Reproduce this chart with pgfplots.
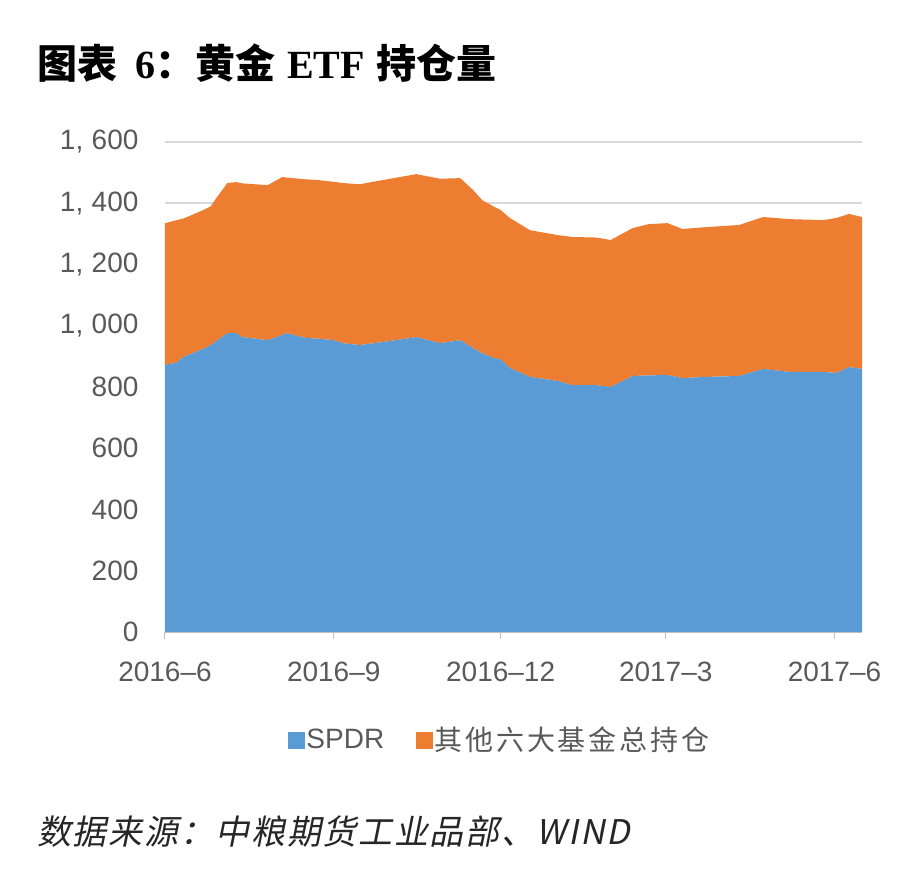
\documentclass[border=0pt]{standalone}
\usepackage{fontspec}
\setmainfont{Liberation Sans}
\newfontfamily\cjk{Noto Sans CJK SC}
\newfontfamily\serifb{Liberation Serif}
\newfontfamily\cjkleg{Noto Sans CJK SC}[LetterSpace=10]
\newfontfamily\cjksl{Noto Sans CJK SC}[FakeSlant=0.2, LetterSpace=5]
\usepackage{pgfplots}
\usepackage{pgfplotstable}
\pgfplotsset{compat=1.18}
\definecolor{c1}{HTML}{5B9BD5}
\definecolor{c2}{HTML}{ED7D31}
\definecolor{gridc}{HTML}{D9D9D9}
\definecolor{axc}{HTML}{BFBFBF}
\definecolor{txt}{HTML}{595959}
\pgfplotstableread{
d S O
0 872 463
6.5 880 465
10 898 452
21 925 453
25 937 453
28 950 467
34 976 490
39 976 493
42 963 502
56 953 506
64 970 516
66 976 508
77 960 518
83 958 518
92 953 517
97 943 523
106 937 525
119 947 529
137 963 532
150 943 537
161 953 529
168 927 516
173 910 500
179 895 495
183 890 488
188 862 490
199 833 479
214 820 476
222 806 484
235 806 482
243 800 480
255 836 483
264 838 494
274 839 496
282 829 487
295 833 489
313 836 493
326 859 496
341 849 499
359 849 496
366 846 506
373 865 500
380 859 496
}\data
\begin{document}
\begin{tikzpicture}[x=1pt,y=1pt]
\path[use as bounding box] (0,0) rectangle (914,876);
\node[anchor=base west, inner sep=0] at (37,797) {\fontsize{40}{40}\selectfont\cjk\bfseries 图表\hspace{0.45em}{\serifb\bfseries 6}：黄金\hspace{0.3em}{\serifb\bfseries ETF}\hspace{0.3em}持仓量};
\begin{axis}[
  at={(165pt,244pt)}, anchor=south west,
  scale only axis, width=697pt, height=490pt,
  xmin=0, xmax=380, ymin=0, ymax=1600,
  stack plots=y,
  axis x line*=bottom, axis y line*=left,
  y axis line style={draw=none},
  x axis line style={draw=axc, line width=1.5pt, -},
  xtick={0,92,183,273,365},
  xticklabels={2016--6,2016--9,2016--12,2017--3,2017--6},
  ytick={0,200,...,1600},
  tick align=outside, major tick length=7pt,
  xtick style={draw=axc, line width=1pt},
  ytick style={draw=none},
  ymajorgrids, grid style={draw=gridc, line width=2pt},
  /pgf/number format/1000 sep={,\hspace{0.3em}},
  /pgf/number format/assume math mode=true,
  tick label style={font=\fontsize{28}{28}\selectfont, text=txt},
  xticklabel style={yshift=-19pt},
  yticklabel style={xshift=-16pt},
  legend columns=2,
  legend style={draw=none, fill=none, at={(0.48,-0.22)}, anchor=center,
    font=\fontsize{28}{28}\selectfont, text=txt,
    /tikz/every even column/.append style={column sep=30pt}},
]
\addlegendimage{legend image code/.code={\fill[c1] (0pt,-8pt) rectangle (16pt,8pt);}}
\addlegendentry{SPDR}
\addlegendimage{legend image code/.code={\fill[c2] (0pt,-8pt) rectangle (16pt,8pt);}}
\addlegendentry{{\cjkleg 其他六大基金总持仓}}
\addplot[fill=c1, draw=none, forget plot] table[x=d, y=S] {\data} \closedcycle;
\addplot[fill=c2, draw=none, forget plot] table[x=d, y=O] {\data} \closedcycle;
\end{axis}
\node[anchor=base west, inner sep=0, text=black!85] at (37,31) {\fontsize{34}{34}\selectfont\cjksl 数据来源：中粮期货工业品部、WIND};
\end{tikzpicture}
\end{document}
